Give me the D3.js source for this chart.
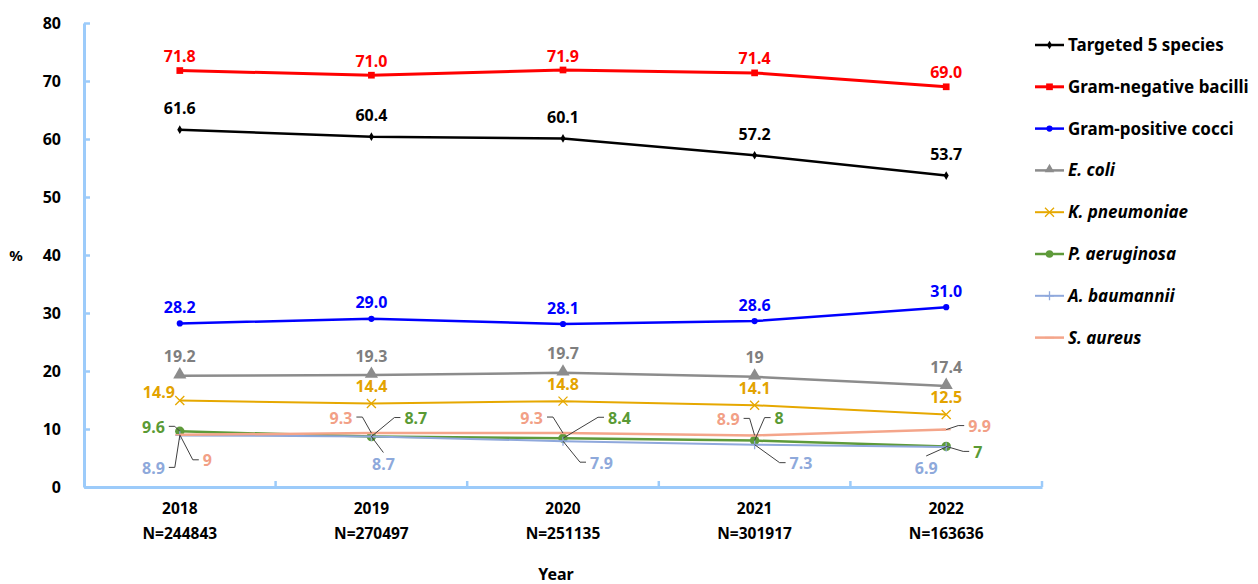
<!DOCTYPE html>
<html>
<head>
<meta charset="utf-8">
<script src="https://cdn.jsdelivr.net/npm/d3@7"></script>
<style>
  body { margin: 0; background: #fff; }
  text { font-family: "Noto Sans", "Open Sans", sans-serif; font-weight: bold; }
</style>
</head>
<body>
<div id="chart"></div>
<script>
// data
var years = ["2018", "2019", "2020", "2021", "2022"];
var sampleN = ["N=244843", "N=270497", "N=251135", "N=301917", "N=163636"];
var seriesNames = ["Targeted 5 species", "Gram-negative bacilli", "Gram-positive cocci",
  "E. coli", "K. pneumoniae", "P. aeruginosa", "A. baumannii", "S. aureus"];
var targeted5 = [61.6, 60.4, 60.1, 57.2, 53.7];
var gramNeg = [71.8, 71.0, 71.9, 71.4, 69.0];
var gramPos = [28.2, 29.0, 28.1, 28.6, 31.0];
var eColi = [19.2, 19.3, 19.7, 19, 17.4];
var kPneu = [14.9, 14.4, 14.8, 14.1, 12.5];
var pAeru = [9.6, 8.7, 8.4, 8, 7];
var aBaum = [8.9, 8.7, 7.9, 7.3, 6.9];
var sAureus = [9, 9.3, 9.3, 8.9, 9.9];
var yTicks = [0, 10, 20, 30, 40, 50, 60, 70, 80];

var width = 1258, height = 584;
var margin = { top: 23, right: 216, bottom: 97, left: 84 };

// styles per series (same order as seriesNames)
var styles = [
  { color: "#000000", label: "#000000", w: 2.5, marker: "diamond", size: 22, fixed: true, dy: -21 },
  { color: "#FF0000", label: "#FF0000", w: 3, marker: "square", size: 45, fixed: true, dy: -14 },
  { color: "#0000FF", label: "#0000FF", w: 2.5, marker: "circle", size: 30, fixed: true, dy: -16 },
  { color: "#8C8C8C", label: "#7F7F7F", w: 2.5, marker: "triangle", size: 75, italic: true, dy: -19 },
  { color: "#E6A800", label: "#E3A300", w: 2, marker: "x", size: 9, italic: true, dy: -17 },
  { color: "#5E9A3A", label: "#5A9A35", w: 2.5, marker: "circle", size: 70, italic: true },
  { color: "#8FA8DC", label: "#8EA9DB", w: 2, marker: "plus", size: 9, italic: true },
  { color: "#F4A58A", label: "#F2A086", w: 2.5, marker: "dash", size: 9, italic: true }
];
var seriesValues = [targeted5, gramNeg, gramPos, eColi, kPneu, pAeru, aBaum, sAureus];

// label placement for the crowded bottom group: [dx, dy, anchor, leader]
var labelPlace = {
  4: { 0: [-5, -8, "end", false] },
  5: { 0: [-15, -4, "end", true], 1: [33, -18, "start", true], 2: [45, -20, "start", true],
       3: [20, -22, "start", true], 4: [27, 6, "start", true] },
  6: { 0: [-15, 33, "end", true], 1: [12, 28, "middle", true], 2: [27, 22, "start", true],
       3: [35, 19, "start", true], 4: [-20, 21, "middle", true] },
  7: { 0: [23, 26, "start", true], 1: [-19, -15, "end", true], 2: [-20, -15, "end", true],
       3: [-15, -16, "end", true], 4: [22, -3, "start", true] }
};

var svg = d3.select("#chart").append("svg")
  .attr("width", width)
  .attr("height", height);

var x = d3.scaleBand()
  .domain(years)
  .range([margin.left, width - margin.right])
  .padding(0);
var y = d3.scaleLinear()
  .domain([0, 80])
  .range([height - margin.bottom, margin.top]);
var cx = function(yr) { return x(yr) + x.bandwidth() / 2; };

var axisColor = "#9CCBFA";

// y axis
var yAxis = svg.append("g")
  .attr("transform", "translate(" + margin.left + ",0)")
  .call(d3.axisLeft(y).tickValues(yTicks).tickSize(-6).tickPadding(23).tickSizeOuter(0));
yAxis.select(".domain").attr("stroke", axisColor).attr("stroke-width", 3);
yAxis.selectAll(".tick line").attr("stroke", axisColor).attr("stroke-width", 2.5);
yAxis.selectAll(".tick text").attr("font-size", 16).attr("fill", "#000");

// x axis
var xAxis = svg.append("g")
  .attr("transform", "translate(0," + y(0) + ")")
  .call(d3.axisBottom(x).tickSize(0).tickSizeOuter(0).tickFormat(""));
xAxis.select(".domain").attr("stroke", axisColor).attr("stroke-width", 3);
xAxis.selectAll(".tick").remove();

var bounds = years.map(function(yr) { return x(yr) + x.bandwidth(); });
xAxis.selectAll(".btick")
  .data(bounds)
  .enter().append("line")
  .attr("x1", function(d) { return d; })
  .attr("x2", function(d) { return d; })
  .attr("y1", 0).attr("y2", -6)
  .attr("stroke", axisColor)
  .attr("stroke-width", 2.5);

var xl = svg.append("g").selectAll("text")
  .data(years)
  .enter().append("text")
  .attr("x", cx)
  .attr("y", 514)
  .attr("text-anchor", "middle")
  .attr("font-size", 15.5);
xl.append("tspan").text(function(d) { return d; });
xl.append("tspan")
  .attr("x", cx)
  .attr("dy", 25)
  .text(function(d, i) { return sampleN[i]; });

svg.append("text")
  .attr("x", 556).attr("y", 580)
  .attr("text-anchor", "middle")
  .attr("font-size", 16)
  .text("Year");
svg.append("text")
  .attr("x", 16).attr("y", 261)
  .attr("text-anchor", "middle")
  .attr("font-size", 15)
  .text("%");

// markers
function drawMarker(g, st, px, py) {
  var t = st.marker;
  if (t === "diamond" || t === "square" || t === "circle" || t === "triangle") {
    var sym = { diamond: d3.symbolDiamond, square: d3.symbolSquare, circle: d3.symbolCircle, triangle: d3.symbolTriangle }[t];
    g.append("path")
      .attr("d", d3.symbol().type(sym).size(st.size)())
      .attr("transform", "translate(" + px + "," + (t === "triangle" ? py - 1 : py) + ")")
      .attr("fill", st.color);
  } else if (t === "x") {
    var s = st.size / 2;
    g.append("path")
      .attr("d", "M" + (px - s) + "," + (py - s) + "L" + (px + s) + "," + (py + s) +
        "M" + (px - s) + "," + (py + s) + "L" + (px + s) + "," + (py - s))
      .attr("stroke", st.color).attr("stroke-width", 1.3).attr("fill", "none");
  } else if (t === "plus") {
    var p = st.size / 2;
    g.append("path")
      .attr("d", "M" + (px - p) + "," + py + "L" + (px + p) + "," + py +
        "M" + px + "," + (py - p) + "L" + px + "," + (py + p))
      .attr("stroke", st.color).attr("stroke-width", 1.3).attr("fill", "none");
  } else if (t === "dash") {
    g.append("path")
      .attr("d", "M" + (px - st.size / 2) + "," + py + "L" + (px + st.size / 2) + "," + py)
      .attr("stroke", st.color).attr("stroke-width", 1.5);
  }
}

var line = d3.line()
  .x(function(d, i) { return cx(years[i]); })
  .y(function(d) { return y(d); });

seriesValues.forEach(function(vals, si) {
  var st = styles[si];
  var g = svg.append("g");
  g.append("path")
    .datum(vals)
    .attr("d", line)
    .attr("fill", "none")
    .attr("stroke", st.color)
    .attr("stroke-width", st.w);
  vals.forEach(function(v, i) {
    drawMarker(g, st, cx(years[i]), y(v));
  });
});

// value labels
var leaderG = svg.append("g");
seriesValues.forEach(function(vals, si) {
  var st = styles[si];
  vals.forEach(function(v, i) {
    var px = cx(years[i]), py = y(v);
    var txt = st.fixed ? v.toFixed(1) : String(v);
    var pl = labelPlace[si] && labelPlace[si][i];
    var dx = 0, dy = st.dy, anchor = "middle", leader = false;
    if (pl) { dx = pl[0]; dy = pl[1]; anchor = pl[2]; leader = pl[3]; }
    var lx = px + dx, ly = py + dy;
    svg.append("text")
      .attr("x", lx).attr("y", ly)
      .attr("dy", "0.35em")
      .attr("text-anchor", anchor)
      .attr("font-size", 16)
      .attr("fill", st.label)
      .text(txt);
    if (leader) {
      var pts;
      if (anchor === "end") {
        pts = [[lx + 4, ly - 1], [lx + 10, ly - 1], [px, py]];
      } else if (anchor === "start") {
        pts = [[lx - 4, ly - 1], [lx - 10, ly - 1], [px, py]];
      } else {
        pts = [[lx, ly - 12], [px, py]];
      }
      leaderG.append("path")
        .attr("d", d3.line()(pts))
        .attr("fill", "none")
        .attr("stroke", "#404040")
        .attr("stroke-width", 1);
    }
  });
});

// legend
var legend = svg.append("g").attr("transform", "translate(1035,45)");
seriesNames.forEach(function(name, i) {
  var st = styles[i];
  var row = legend.append("g").attr("transform", "translate(0," + (i * 41.8) + ")");
  row.append("line")
    .attr("x1", 0).attr("x2", 29)
    .attr("y1", 0).attr("y2", 0)
    .attr("stroke", st.color)
    .attr("stroke-width", st.w);
  var ms = Object.assign({}, st);
  if (st.marker === "circle" && i === 5) ms.size = 45;
  if (st.marker === "triangle") ms.size = 40;
  drawMarker(row, ms, 14.5, 0);
  row.append("text")
    .attr("x", 33).attr("y", 0)
    .attr("dy", "0.35em")
    .attr("font-size", 17)
    .attr("font-style", st.italic ? "italic" : "normal")
    .text(name);
});
</script>
</body>
</html>
